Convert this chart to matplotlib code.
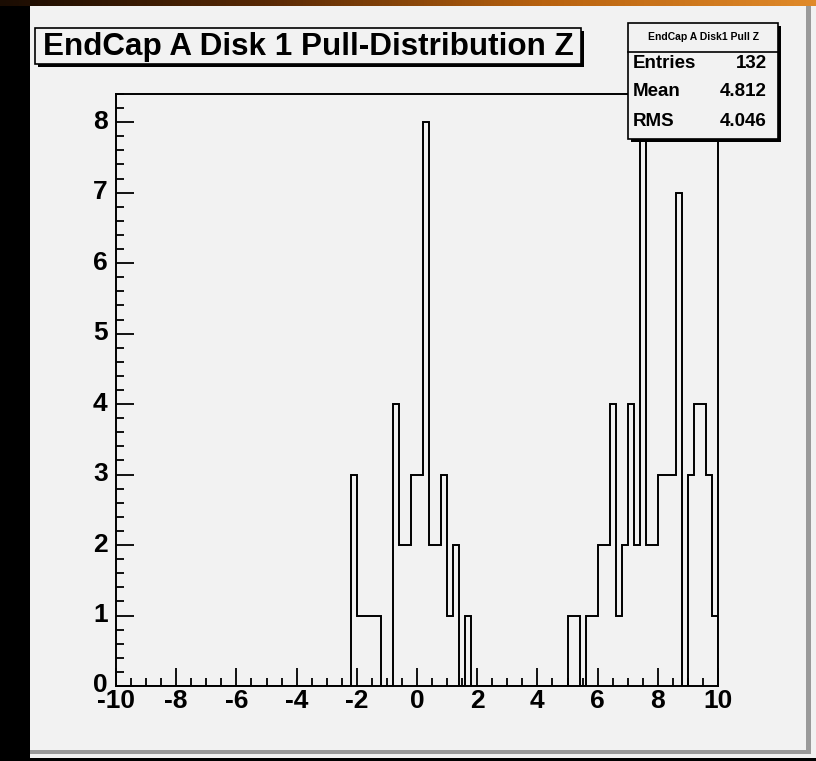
import numpy as np
import matplotlib
matplotlib.use("Agg")
import matplotlib.pyplot as plt
from matplotlib.patches import Rectangle
from matplotlib.ticker import MultipleLocator, FixedLocator
from matplotlib.colors import LinearSegmentedColormap
from matplotlib.transforms import ScaledTranslation

W, H = 816, 761

# Histogram definition: 100 bins over [-10, 10]
n_bins = 100
x_lo, x_hi = -10.0, 10.0

# Filled bins (index into the 100 bins) and their contents; all other bins are empty
bin_index = [39, 40, 41, 42, 43, 46, 47, 48, 49, 50, 51, 52, 53, 54, 55, 56, 58,
             75, 76, 78, 79, 80, 81, 82, 83, 84, 85, 86, 87, 88, 89, 90, 91, 92,
             93, 95, 96, 97, 98, 99]
bin_count = [3, 1, 1, 1, 1, 4, 2, 2, 3, 3, 8, 2, 2, 3, 1, 2, 1,
             1, 1, 1, 1, 2, 2, 4, 1, 2, 4, 2, 8, 2, 2, 3, 3, 3,
             7, 3, 4, 4, 3, 1]

title = "EndCap A Disk 1 Pull-Distribution Z"
stats_name = "EndCap A Disk1 Pull Z"
stats_labels = ["Entries", "Mean", "RMS"]
stats_values = ["132", "4.812", "4.046"]

x_ticks = [-10, -8, -6, -4, -2, 0, 2, 4, 6, 8, 10]
y_ticks = [0, 1, 2, 3, 4, 5, 6, 7, 8]

counts = np.zeros(n_bins)
counts[bin_index] = bin_count
edges = np.linspace(x_lo, x_hi, n_bins + 1)

CANVAS = "#f2f2f2"
FONT = "Liberation Sans"


def fx(px):
    return px / W


def fy(py):
    return 1.0 - py / H


def frect(x0, y0, x1, y1, **kw):
    # rectangle given in pixel coords (top-left origin)
    return Rectangle((fx(x0), fy(y1)), fx(x1) - fx(x0), fy(y0) - fy(y1),
                     transform=fig.transFigure, **kw)


fig = plt.figure(figsize=(W / 100, H / 100), dpi=100, facecolor="black")

# slide header strip: dark brown fading into orange
grad = np.linspace(0, 1, 256).reshape(1, -1)
cmap = LinearSegmentedColormap.from_list("hdr", ["#1a0c02", "#5a2a05", "#b8620f", "#e08a2a"])
ax_hdr = fig.add_axes([0, fy(6), 1, 6 / H])
ax_hdr.imshow(grad, aspect="auto", cmap=cmap, extent=[0, 1, 0, 1])
ax_hdr.set_axis_off()

# ROOT canvas with bevelled border
fig.add_artist(frect(30, 6, 816, 758, facecolor=CANVAS, edgecolor="none", zorder=0))
fig.add_artist(frect(806, 6, 811, 754, facecolor="#9a9a9a", edgecolor="none", zorder=0.5))
fig.add_artist(frect(30, 750, 811, 754, facecolor="#9a9a9a", edgecolor="none", zorder=0.5))

# frame
ax = fig.add_axes([fx(116), fy(686), fx(718) - fx(116), fy(94) - fy(686)])
ax.set_facecolor(CANVAS)
ax.stairs(counts, edges, color="black", linewidth=1.4, baseline=0)
ax.set_xlim(x_lo, x_hi)
ax.set_ylim(0, 8.4)
for s in ax.spines.values():
    s.set_linewidth(1.4)
    s.set_color("black")

ax.xaxis.set_major_locator(FixedLocator(x_ticks))
ax.xaxis.set_minor_locator(MultipleLocator(0.5))
ax.yaxis.set_major_locator(FixedLocator(y_ticks))
ax.yaxis.set_minor_locator(MultipleLocator(0.2))
ax.tick_params(which="both", direction="in", top=False, right=False, width=1.3, color="black")
ax.tick_params(which="major", length=13)
ax.tick_params(which="minor", length=6)
ax.tick_params(axis="x", which="major", pad=2)
ax.tick_params(axis="y", which="major", pad=6)
ax.set_xticklabels([str(t) for t in x_ticks])
ax.set_yticklabels([str(t) for t in y_ticks])
for lab in ax.get_xticklabels() + ax.get_yticklabels():
    lab.set_fontfamily(FONT)
    lab.set_fontweight("bold")
    lab.set_fontsize(19)
# y labels sit slightly above their ticks
lift = ScaledTranslation(0, 3 / 100, fig.dpi_scale_trans)
for tick in ax.yaxis.get_major_ticks():
    tick.label1.set_transform(tick.label1.get_transform() + lift)

# title box with shadow
tx0, ty0, tx1, ty1 = 35, 28, 581, 64
fig.add_artist(frect(tx0 + 3, ty0 + 3, tx1 + 3, ty1 + 3, facecolor="black", edgecolor="none", zorder=5))
fig.add_artist(frect(tx0, ty0, tx1, ty1, facecolor=CANVAS, edgecolor="black", linewidth=1.2, zorder=6))
fig.text(fx((tx0 + tx1) / 2), fy((ty0 + ty1) / 2 + 1), title, ha="center", va="center",
         fontfamily=FONT, fontweight="bold", fontsize=22.6, zorder=7)

# statistics box with shadow
sx0, sy0, sx1, sy1 = 628, 23, 778, 139
fig.add_artist(frect(sx0 + 3, sy0 + 3, sx1 + 3, sy1 + 3, facecolor="black", edgecolor="none", zorder=5))
fig.add_artist(frect(sx0, sy0, sx1, sy1, facecolor=CANVAS, edgecolor="black", linewidth=1.2, zorder=6))
fig.add_artist(plt.Line2D([fx(sx0), fx(sx1)], [fy(52), fy(52)], transform=fig.transFigure,
                          color="black", linewidth=1.2, zorder=7))
fig.text(fx((sx0 + sx1) / 2), fy(37), stats_name, ha="center", va="center",
         fontfamily=FONT, fontweight="bold", fontsize=7.5, zorder=7)
row_y = [64, 92, 121]
for lab, val, yy in zip(stats_labels, stats_values, row_y):
    fig.text(fx(633), fy(yy), lab, ha="left", va="center", fontfamily=FONT,
             fontweight="bold", fontsize=13.5, zorder=7)
    fig.text(fx(767), fy(yy), val, ha="right", va="center", fontfamily=FONT,
             fontweight="bold", fontsize=13.5, zorder=7)

fig.savefig("out.png", dpi=100, facecolor=fig.get_facecolor())
